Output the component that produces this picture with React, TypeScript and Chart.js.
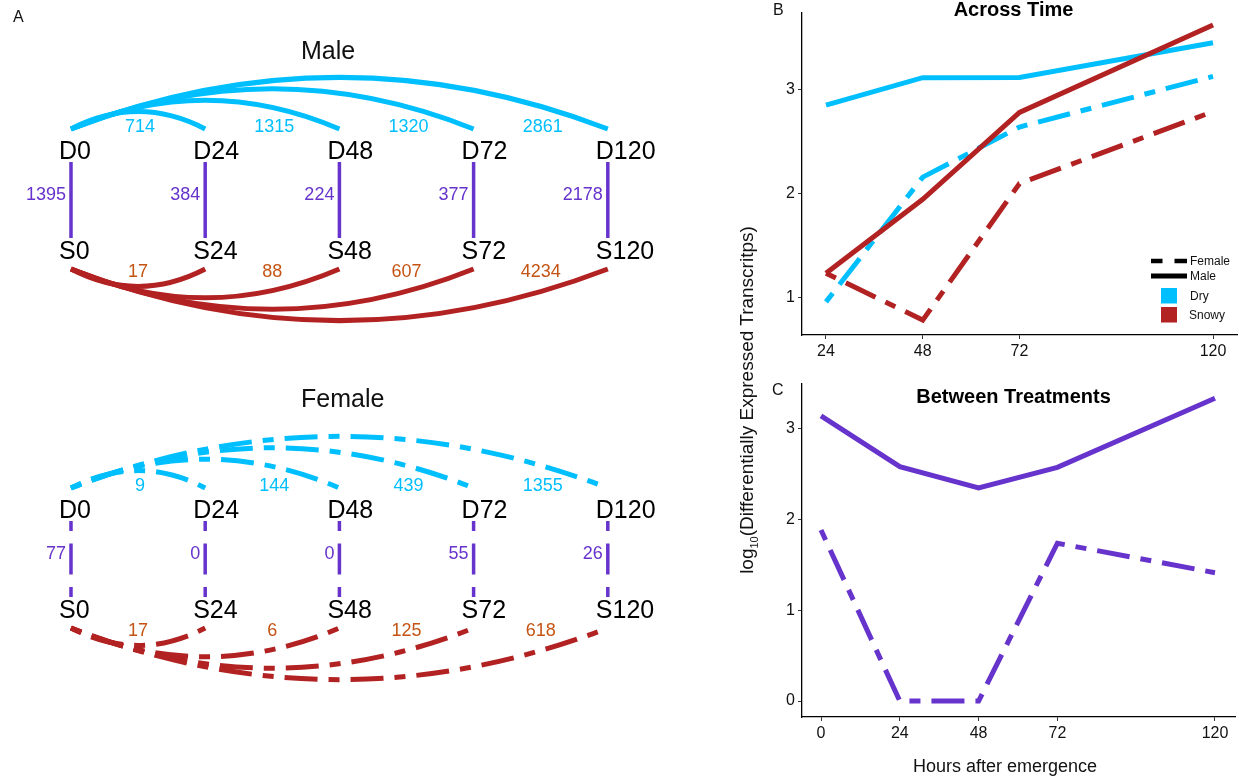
import React, { useEffect, useRef } from 'react';
import { Chart, registerables } from 'chart.js';

Chart.register(...registerables);

const FONT = '"Liberation Sans", Arial, Helvetica, sans-serif';
Chart.defaults.font.family = FONT;

const DRY = '#00BFFF';
const SNOWY = '#B22222';
const BETWEEN = '#6633CC';
const SNOWY_LABEL = '#C55414';
const TEXT = '#111111';
const TWODASH = [11, 11, 33, 11];

// Sampling times (hours after emergence)
const timepoints = [0, 24, 48, 72, 120];
const laterHours = [24, 48, 72, 120];

// DE transcript counts: each later time point vs. 0 h, within a treatment
const maleDryVsD0 = [714, 1315, 1320, 2861];
const maleSnowyVsS0 = [17, 88, 607, 4234];
const femaleDryVsD0 = [9, 144, 439, 1355];
const femaleSnowyVsS0 = [17, 6, 125, 618];

// DE transcript counts: Dry vs. Snowy at the same time point
const maleDryVsSnowy = [1395, 384, 224, 377, 2178];
const femaleDryVsSnowy = [77, 0, 0, 55, 26];

// Axis ticks
const acrossTicksY = [1, 2, 3];
const betweenTicksY = [0, 1, 2, 3];

const log10OrZero = (n: number) => (n > 0 ? Math.log10(n) : 0);

function capText(
  ctx: CanvasRenderingContext2D,
  text: string,
  x: number,
  yMid: number,
  size: number,
  align: CanvasTextAlign = 'left',
  color = TEXT,
  weight = 'normal'
) {
  ctx.font = `${weight} ${size}px ${FONT}`;
  ctx.fillStyle = color;
  ctx.textAlign = align;
  ctx.textBaseline = 'alphabetic';
  ctx.fillText(text, x, yMid + 0.358 * size);
}

type PanelProps = {
  top: number;
  height: number;
  title: string;
  titleY: number;
  dryCounts: number[];
  snowyCounts: number[];
  betweenCounts: number[];
  dashed: boolean;
  letter?: string;
};

// Network of pairwise comparisons: D = Dry, S = Snowy, one node per time point
function NetworkPanel(props: PanelProps) {
  const ref = useRef<HTMLCanvasElement | null>(null);
  useEffect(() => {
    const { title, titleY, dryCounts, snowyCounts, betweenCounts, dashed, letter, height } = props;
    const arcDash = dashed ? TWODASH : [];
    const network = {
      id: 'network',
      afterDatasetsDraw(chart: any) {
        const ctx: CanvasRenderingContext2D = chart.ctx;
        const xs = chart.scales.x;
        const ys = chart.scales.y;
        const px = (i: number) => xs.getPixelForValue(i);
        const dRow = ys.getPixelForValue(0);
        const sRow = ys.getPixelForValue(1);
        ctx.save();

        if (letter) capText(ctx, letter, 13, 16, 16, 'left', TEXT);
        capText(ctx, title, 301, titleY, 25, 'left', TEXT);

        // Dry vs Snowy edges
        ctx.lineCap = 'butt';
        ctx.strokeStyle = BETWEEN;
        ctx.lineWidth = 3.5;
        ctx.setLineDash(dashed ? [10, 12.5, 31, 12.5] : []);
        timepoints.forEach((_, i) => {
          ctx.beginPath();
          ctx.moveTo(px(i), dRow + 12);
          ctx.lineTo(px(i), sRow - 12);
          ctx.stroke();
        });

        // curved edges from the 0 h node
        const arc = (x0: number, x1: number, y: number, dir: number) => {
          const h = 6 + 0.085 * (x1 - x0);
          ctx.beginPath();
          ctx.moveTo(x0, y);
          ctx.quadraticCurveTo((x0 + x1) / 2, y + dir * 2 * h, x1, y);
          ctx.stroke();
        };
        ctx.lineWidth = 5;
        ctx.setLineDash(arcDash);
        ctx.strokeStyle = DRY;
        dryCounts.forEach((_, k) => arc(px(0), px(k + 1), dRow - 21, -1));
        ctx.strokeStyle = SNOWY;
        snowyCounts.forEach((_, k) => arc(px(0), px(k + 1), sRow + 19, 1));
        ctx.setLineDash([]);

        // edge labels
        dryCounts.forEach((n, k) =>
          capText(ctx, String(n), (px(k) + px(k + 1)) / 2 + 2, dRow - 24, 18, 'center', DRY)
        );
        snowyCounts.forEach((n, k) =>
          capText(ctx, String(n), (px(k) + px(k + 1)) / 2, sRow + 21, 18, 'center', SNOWY_LABEL)
        );
        betweenCounts.forEach((n, i) =>
          capText(ctx, String(n), px(i) - 5, (dRow + sRow) / 2 - 6.5, 18, 'right', BETWEEN)
        );

        // node labels
        timepoints.forEach((t, i) => {
          capText(ctx, `D${t}`, px(i) - 12, dRow, 25, 'left', '#000');
          capText(ctx, `S${t}`, px(i) - 12, sRow, 25, 'left', '#000');
        });
        ctx.restore();
      },
    };

    const chart = new Chart(ref.current as HTMLCanvasElement, {
      type: 'scatter',
      data: {
        datasets: [
          {
            data: timepoints.flatMap((_, i) => [
              { x: i, y: 0 },
              { x: i, y: 1 },
            ]),
            pointRadius: 0,
          },
        ],
      },
      options: {
        animation: false,
        responsive: false,
        layout: { padding: 0 },
        plugins: { legend: { display: false }, tooltip: { enabled: false } },
        scales: {
          x: { type: 'linear', display: false, min: -0.529, max: 4.836 },
          y: { type: 'linear', display: false, reverse: true, min: -1.5, max: (height - 150) / 100 },
        },
      },
      plugins: [network],
    } as any);
    return () => chart.destroy();
  }, []);
  return (
    <canvas
      ref={ref}
      width={720}
      height={props.height}
      style={{ position: 'absolute', left: 0, top: props.top }}
    />
  );
}

const axisStyle = (min: number, max: number, ticks: number[], fitSize: number, horizontal: boolean) => ({
  type: 'linear',
  min,
  max,
  afterBuildTicks: (s: any) => {
    s.ticks = ticks.map((v) => ({ value: v }));
  },
  afterFit: (s: any) => {
    if (horizontal) s.height = fitSize;
    else s.width = fitSize;
  },
  grid: {
    drawOnChartArea: false,
    drawTicks: true,
    tickLength: 4,
    color: '#333',
    tickColor: '#333',
    tickWidth: 1,
  },
  border: { display: true, color: '#000', width: 1.3 },
  ticks: { padding: 3, color: TEXT, font: { size: 16 }, maxRotation: 0, autoSkip: false },
});

const lineSet = (label: string, hours: number[], counts: number[], color: string, dash: number[]) => ({
  label,
  data: hours.map((h, i) => ({ x: h, y: log10OrZero(counts[i]) })),
  borderColor: color,
  backgroundColor: color,
  borderWidth: 5,
  borderDash: dash,
  borderCapStyle: 'butt',
  borderJoinStyle: 'miter',
  pointRadius: 0,
  tension: 0,
  fill: false,
});

function AcrossTimeChart() {
  const ref = useRef<HTMLCanvasElement | null>(null);
  useEffect(() => {
    const decor = {
      id: 'acrossDecor',
      afterDatasetsDraw(chart: any) {
        const ctx: CanvasRenderingContext2D = chart.ctx;
        const { left, right } = chart.chartArea;
        ctx.save();
        capText(ctx, 'B', 43, 9, 16, 'left', TEXT);
        capText(ctx, 'Across Time', (left + right) / 2 - 6, 9, 20, 'center', '#000', 'bold');

        // legend: line type = sex, colour = treatment
        ctx.strokeStyle = '#000';
        ctx.lineCap = 'butt';
        ctx.lineWidth = 4.5;
        ctx.beginPath();
        ctx.moveTo(421, 261);
        ctx.lineTo(432.5, 261);
        ctx.moveTo(444.5, 261);
        ctx.lineTo(457, 261);
        ctx.stroke();
        ctx.lineWidth = 5;
        ctx.beginPath();
        ctx.moveTo(421, 276);
        ctx.lineTo(457, 276);
        ctx.stroke();
        ctx.fillStyle = DRY;
        ctx.fillRect(431, 288, 16, 15.5);
        ctx.fillStyle = SNOWY;
        ctx.fillRect(431, 307, 16, 15.5);
        capText(ctx, 'Female', 460, 260.5, 12, 'left', TEXT);
        capText(ctx, 'Male', 460, 276, 12, 'left', TEXT);
        capText(ctx, 'Dry', 460, 296, 12, 'left', TEXT);
        capText(ctx, 'Snowy', 459, 315, 12, 'left', TEXT);
        ctx.restore();
      },
    };
    const chart = new Chart(ref.current as HTMLCanvasElement, {
      type: 'line',
      data: {
        datasets: [
          lineSet('Snowy Male', laterHours, maleSnowyVsS0, SNOWY, []),
          lineSet('Snowy Female', laterHours, femaleSnowyVsS0, SNOWY, TWODASH),
          lineSet('Dry Male', laterHours, maleDryVsD0, DRY, []),
          lineSet('Dry Female', laterHours, femaleDryVsD0, DRY, TWODASH),
        ],
      },
      options: {
        animation: false,
        responsive: false,
        layout: { padding: { top: 3, right: 2, left: 0, bottom: 0 } },
        plugins: { legend: { display: false }, tooltip: { enabled: false } },
        scales: {
          x: axisStyle(18.05, 125.95, laterHours, 25, true),
          y: axisStyle(0.6345, 3.747, acrossTicksY, 72, false),
        },
      },
      plugins: [decor],
    } as any);
    return () => chart.destroy();
  }, []);
  return <canvas ref={ref} width={509} height={360} style={{ position: 'absolute', left: 730, top: 0 }} />;
}

function BetweenChart() {
  const ref = useRef<HTMLCanvasElement | null>(null);
  useEffect(() => {
    const decor = {
      id: 'betweenDecor',
      afterDatasetsDraw(chart: any) {
        const ctx: CanvasRenderingContext2D = chart.ctx;
        const { left, right } = chart.chartArea;
        ctx.save();
        capText(ctx, 'C', 42, 29, 16, 'left', TEXT);
        capText(ctx, 'Between Treatments', (left + right) / 2 - 5, 35.5, 20, 'center', '#000', 'bold');
        capText(ctx, 'Hours after emergence', 275, 405.5, 18, 'center', TEXT);
        ctx.restore();
      },
    };
    const chart = new Chart(ref.current as HTMLCanvasElement, {
      type: 'line',
      data: {
        datasets: [
          lineSet('Male', timepoints, maleDryVsSnowy, BETWEEN, []),
          lineSet('Female', timepoints, femaleDryVsSnowy, BETWEEN, TWODASH),
        ],
      },
      options: {
        animation: false,
        responsive: false,
        layout: { padding: { top: 24, right: 4, left: 0, bottom: 0 } },
        plugins: { legend: { display: false }, tooltip: { enabled: false } },
        scales: {
          x: axisStyle(-5.79, 126.1, timepoints, 61, true),
          y: axisStyle(-0.176, 3.496, betweenTicksY, 72, false),
        },
      },
      plugins: [decor],
    } as any);
    return () => chart.destroy();
  }, []);
  return <canvas ref={ref} width={509} height={418} style={{ position: 'absolute', left: 730, top: 360 }} />;
}

export default function App() {
  return (
    <div
      style={{
        position: 'absolute',
        left: 0,
        top: 0,
        width: 1239,
        height: 778,
        background: '#ffffff',
        overflow: 'hidden',
      }}
    >
      <NetworkPanel
        top={0}
        height={358}
        title="Male"
        titleY={50}
        dryCounts={maleDryVsD0}
        snowyCounts={maleSnowyVsS0}
        betweenCounts={maleDryVsSnowy}
        dashed={false}
        letter="A"
      />
      <NetworkPanel
        top={359}
        height={419}
        title="Female"
        titleY={39}
        dryCounts={femaleDryVsD0}
        snowyCounts={femaleSnowyVsS0}
        betweenCounts={femaleDryVsSnowy}
        dashed={true}
      />
      <AcrossTimeChart />
      <BetweenChart />
      <div
        style={{
          position: 'absolute',
          left: 748 - 220,
          top: 400 - 12,
          width: 440,
          height: 24,
          lineHeight: '24px',
          textAlign: 'center',
          whiteSpace: 'nowrap',
          transform: 'rotate(-90deg)',
          font: `19px ${FONT}`,
          color: TEXT,
        }}
      >
        log<sub style={{ fontSize: 11, lineHeight: 0 }}>10</sub>(Differentially Expressed Transcritps)
      </div>
    </div>
  );
}
